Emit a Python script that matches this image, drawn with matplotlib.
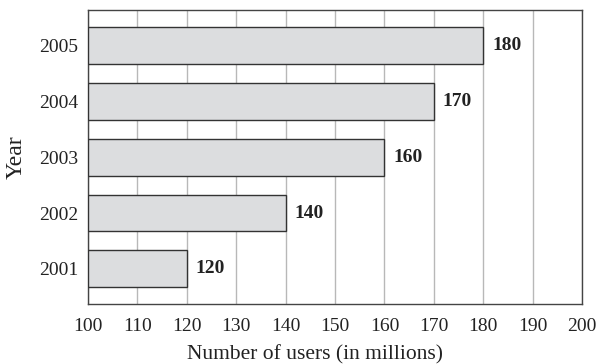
import matplotlib
matplotlib.use('Agg')
import matplotlib.pyplot as plt

years = ['2001', '2002', '2003', '2004', '2005']
users = [120, 140, 160, 170, 180]
xticks = list(range(100, 201, 10))

plt.rcParams['font.family'] = ['Liberation Serif', 'DejaVu Serif']

fig = plt.figure(figsize=(5.96, 3.64), dpi=100)
ax = fig.add_axes([0.1477, 0.1648, 0.8288, 0.8077])

pos = range(len(years))
ax.barh(pos, [u - 100 for u in users], left=100, height=0.66,
        color='#dcdddf', edgecolor='#333333', linewidth=1.0, zorder=3)
for p, u in zip(pos, users):
    ax.text(u + 1.8, p, str(u), va='center', ha='left', fontsize=14,
            fontweight='bold', color='#222222', zorder=4)

ax.set_xlim(100, 200)
ax.set_ylim(-0.63, 4.64)
ax.set_xticks(xticks)
ax.set_yticks(list(pos))
ax.set_yticklabels(years)
ax.tick_params(length=0, labelsize=14, colors='#222222')
ax.tick_params(axis='x', pad=10)
ax.tick_params(axis='y', pad=7)
ax.xaxis.grid(True, color='#b8b8b8', linewidth=1.0, zorder=0)
ax.set_axisbelow(True)
for s in ax.spines.values():
    s.set_color('#444444')
    s.set_linewidth(1.0)

ax.set_xlabel('Number of users (in millions)', fontsize=15.5, color='#222222',
              va='center')
ax.xaxis.set_label_coords(0.46, -0.172)
ax.set_ylabel('Year', fontsize=17, color='#222222', labelpad=9)

fig.savefig('out.png', dpi=100)
